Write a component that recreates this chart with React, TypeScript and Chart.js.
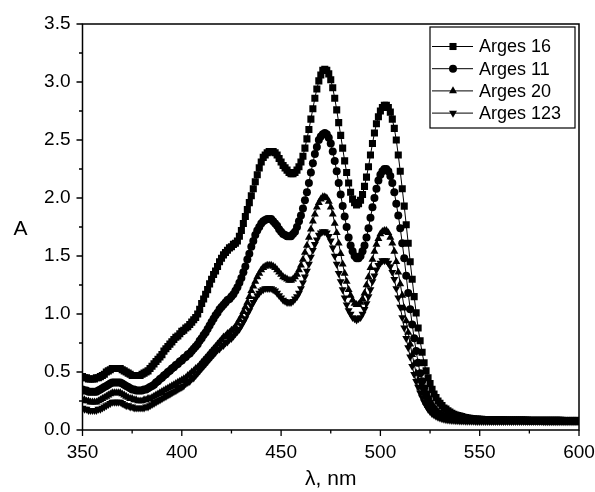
import React, { useEffect, useRef } from 'react';
import { Chart, registerables } from 'chart.js';

Chart.register(...registerables);

// wavelength sampling: 350 .. 600 nm, 1 nm step
const WL_START = 350;
const WL_STEP = 1;

const X_MAJOR = [350, 400, 450, 500, 550, 600];
const X_MINOR = [375, 425, 475, 525, 575];
const Y_MAJOR = [0, 0.5, 1.0, 1.5, 2.0, 2.5, 3.0, 3.5];
const Y_MINOR = [0.25, 0.75, 1.25, 1.75, 2.25, 2.75, 3.25];

const SERIES_NAMES = ['Arges 16', 'Arges 11', 'Arges 20', 'Arges 123'];

const arges16 = [
  0.46, 0.45, 0.45, 0.44, 0.44, 0.44, 0.44, 0.45, 0.45, 0.46,
  0.47, 0.48, 0.50, 0.51, 0.52, 0.53, 0.53, 0.53, 0.53, 0.53,
  0.52, 0.51, 0.50, 0.49, 0.48, 0.47, 0.47, 0.47, 0.47, 0.47,
  0.48, 0.49, 0.50, 0.51, 0.53, 0.55, 0.57, 0.59, 0.61, 0.63,
  0.65, 0.68, 0.70, 0.72, 0.74, 0.76, 0.78, 0.80, 0.81, 0.83,
  0.85, 0.86, 0.88, 0.89, 0.91, 0.93, 0.95, 0.97, 1.00, 1.04,
  1.09, 1.13, 1.17, 1.21, 1.26, 1.30, 1.34, 1.37, 1.41, 1.45,
  1.48, 1.51, 1.53, 1.55, 1.57, 1.58, 1.60, 1.61, 1.63, 1.67,
  1.72, 1.78, 1.84, 1.90, 1.96, 2.02, 2.08, 2.14, 2.20, 2.26,
  2.31, 2.35, 2.37, 2.39, 2.40, 2.40, 2.40, 2.39, 2.37, 2.34,
  2.31, 2.28, 2.26, 2.24, 2.22, 2.21, 2.21, 2.22, 2.24, 2.27,
  2.31, 2.36, 2.43, 2.51, 2.59, 2.68, 2.77, 2.86, 2.94, 3.01,
  3.06, 3.10, 3.11, 3.10, 3.07, 3.02, 2.95, 2.86, 2.76, 2.65,
  2.54, 2.43, 2.32, 2.22, 2.13, 2.05, 1.99, 1.96, 1.94, 1.95,
  1.98, 2.03, 2.10, 2.18, 2.27, 2.37, 2.47, 2.56, 2.64, 2.70,
  2.75, 2.78, 2.80, 2.80, 2.78, 2.74, 2.68, 2.60, 2.50, 2.37,
  2.23, 2.08, 1.93, 1.77, 1.61, 1.45, 1.30, 1.15, 1.01, 0.88,
  0.77, 0.67, 0.58, 0.51, 0.45, 0.40, 0.35, 0.31, 0.28, 0.25,
  0.23, 0.21, 0.19, 0.18, 0.165, 0.155, 0.145, 0.135, 0.13, 0.125,
  0.12, 0.115, 0.11, 0.107, 0.104, 0.101, 0.099, 0.097, 0.095, 0.094,
  0.093, 0.092, 0.091, 0.090, 0.090, 0.089, 0.089, 0.088, 0.088, 0.088,
  0.087, 0.087, 0.087, 0.086, 0.086, 0.086, 0.086, 0.086, 0.085, 0.085,
  0.085, 0.085, 0.085, 0.085, 0.085, 0.084, 0.084, 0.084, 0.084, 0.084,
  0.084, 0.084, 0.084, 0.083, 0.083, 0.083, 0.083, 0.083, 0.083, 0.083,
  0.083, 0.083, 0.082, 0.082, 0.082, 0.082, 0.082, 0.082, 0.082, 0.082,
  0.082,
];

const arges11 = [
  0.35, 0.34, 0.34, 0.33, 0.33, 0.33, 0.33, 0.33, 0.34, 0.35,
  0.36, 0.37, 0.38, 0.39, 0.40, 0.41, 0.41, 0.41, 0.41, 0.41,
  0.40, 0.39, 0.38, 0.37, 0.36, 0.35, 0.35, 0.34, 0.34, 0.34,
  0.34, 0.35, 0.35, 0.36, 0.37, 0.38, 0.39, 0.41, 0.42, 0.44,
  0.45, 0.47, 0.48, 0.50, 0.51, 0.53, 0.54, 0.56, 0.57, 0.59,
  0.60, 0.62, 0.63, 0.65, 0.66, 0.68, 0.70, 0.72, 0.74, 0.77,
  0.79, 0.82, 0.84, 0.87, 0.90, 0.93, 0.96, 0.99, 1.01, 1.04,
  1.06, 1.08, 1.10, 1.12, 1.13, 1.15, 1.17, 1.20, 1.23, 1.27,
  1.31, 1.36, 1.41, 1.47, 1.52, 1.58, 1.63, 1.68, 1.72, 1.75,
  1.78, 1.80, 1.81, 1.82, 1.82, 1.82, 1.80, 1.78, 1.76, 1.73,
  1.71, 1.69, 1.68, 1.67, 1.67, 1.67, 1.69, 1.71, 1.75, 1.80,
  1.85, 1.91, 1.98, 2.05, 2.13, 2.22, 2.30, 2.38, 2.44, 2.50,
  2.53, 2.55, 2.56, 2.55, 2.52, 2.47, 2.40, 2.32, 2.23, 2.13,
  2.03, 1.93, 1.84, 1.75, 1.66, 1.59, 1.54, 1.50, 1.48, 1.48,
  1.50, 1.54, 1.59, 1.66, 1.74, 1.83, 1.92, 2.00, 2.08, 2.15,
  2.20, 2.23, 2.25, 2.25, 2.23, 2.19, 2.13, 2.05, 1.95, 1.85,
  1.74, 1.61, 1.48, 1.33, 1.18, 1.04, 0.91, 0.79, 0.68, 0.58,
  0.49, 0.42, 0.36, 0.31, 0.27, 0.23, 0.20, 0.18, 0.16, 0.145,
  0.135, 0.125, 0.118, 0.112, 0.107, 0.103, 0.100, 0.097, 0.095, 0.093,
  0.091, 0.090, 0.089, 0.088, 0.087, 0.086, 0.086, 0.085, 0.085, 0.084,
  0.084, 0.084, 0.083, 0.083, 0.083, 0.082, 0.082, 0.082, 0.082, 0.082,
  0.081, 0.081, 0.081, 0.081, 0.081, 0.081, 0.081, 0.081, 0.081, 0.081,
  0.081, 0.081, 0.081, 0.080, 0.080, 0.080, 0.080, 0.080, 0.080, 0.080,
  0.080, 0.080, 0.080, 0.080, 0.080, 0.080, 0.080, 0.080, 0.080, 0.080,
  0.079, 0.079, 0.079, 0.079, 0.079, 0.079, 0.079, 0.079, 0.079, 0.079,
  0.079,
];

const arges20 = [
  0.26, 0.26, 0.25, 0.25, 0.24, 0.24, 0.24, 0.24, 0.25, 0.26,
  0.27, 0.28, 0.29, 0.30, 0.31, 0.32, 0.32, 0.32, 0.32, 0.32,
  0.31, 0.30, 0.29, 0.28, 0.27, 0.27, 0.26, 0.26, 0.25, 0.25,
  0.25, 0.26, 0.26, 0.27, 0.27, 0.28, 0.29, 0.30, 0.31, 0.32,
  0.33, 0.34, 0.35, 0.36, 0.37, 0.38, 0.39, 0.40, 0.41, 0.42,
  0.43, 0.44, 0.45, 0.47, 0.48, 0.50, 0.51, 0.53, 0.54, 0.56,
  0.58, 0.60, 0.62, 0.64, 0.66, 0.68, 0.70, 0.72, 0.74, 0.76,
  0.78, 0.80, 0.81, 0.83, 0.84, 0.86, 0.87, 0.89, 0.92, 0.95,
  0.98, 1.02, 1.06, 1.10, 1.15, 1.20, 1.24, 1.28, 1.32, 1.35,
  1.38, 1.40, 1.41, 1.42, 1.42, 1.42, 1.41, 1.40, 1.38, 1.36,
  1.34, 1.32, 1.31, 1.30, 1.29, 1.29, 1.30, 1.32, 1.34, 1.38,
  1.42, 1.47, 1.53, 1.59, 1.66, 1.73, 1.80, 1.86, 1.92, 1.96,
  1.99, 2.01, 2.01, 2.00, 1.97, 1.92, 1.86, 1.78, 1.70, 1.61,
  1.52, 1.43, 1.35, 1.28, 1.21, 1.16, 1.12, 1.09, 1.08, 1.08,
  1.10, 1.13, 1.18, 1.25, 1.32, 1.40, 1.47, 1.54, 1.60, 1.65,
  1.69, 1.71, 1.72, 1.72, 1.70, 1.66, 1.61, 1.54, 1.45, 1.36,
  1.26, 1.16, 1.05, 0.94, 0.84, 0.74, 0.65, 0.57, 0.49, 0.43,
  0.37, 0.32, 0.28, 0.24, 0.21, 0.185, 0.165, 0.15, 0.135, 0.125,
  0.115, 0.108, 0.102, 0.098, 0.094, 0.091, 0.089, 0.087, 0.085, 0.084,
  0.083, 0.082, 0.081, 0.081, 0.080, 0.080, 0.079, 0.079, 0.079, 0.078,
  0.078, 0.078, 0.078, 0.078, 0.078, 0.078, 0.078, 0.078, 0.078, 0.078,
  0.078, 0.078, 0.078, 0.077, 0.077, 0.077, 0.077, 0.077, 0.077, 0.077,
  0.077, 0.077, 0.077, 0.077, 0.077, 0.077, 0.077, 0.077, 0.077, 0.077,
  0.077, 0.077, 0.076, 0.076, 0.076, 0.076, 0.076, 0.076, 0.076, 0.076,
  0.076, 0.076, 0.076, 0.076, 0.076, 0.076, 0.076, 0.076, 0.076, 0.076,
  0.076,
];

const arges123 = [
  0.19, 0.18, 0.18, 0.17, 0.17, 0.17, 0.17, 0.17, 0.18, 0.18,
  0.19, 0.20, 0.21, 0.22, 0.23, 0.24, 0.24, 0.24, 0.24, 0.24,
  0.23, 0.22, 0.21, 0.21, 0.20, 0.20, 0.19, 0.19, 0.19, 0.19,
  0.19, 0.19, 0.20, 0.20, 0.21, 0.22, 0.23, 0.24, 0.25, 0.26,
  0.27, 0.28, 0.29, 0.30, 0.31, 0.32, 0.33, 0.34, 0.35, 0.36,
  0.37, 0.38, 0.40, 0.41, 0.42, 0.44, 0.45, 0.47, 0.49, 0.51,
  0.53, 0.55, 0.57, 0.59, 0.61, 0.63, 0.65, 0.67, 0.69, 0.70,
  0.72, 0.73, 0.75, 0.76, 0.78, 0.79, 0.81, 0.83, 0.85, 0.87,
  0.90, 0.93, 0.96, 1.00, 1.03, 1.07, 1.10, 1.13, 1.16, 1.18,
  1.20, 1.21, 1.22, 1.22, 1.22, 1.22, 1.21, 1.20, 1.18, 1.16,
  1.14, 1.12, 1.11, 1.10, 1.10, 1.10, 1.11, 1.13, 1.15, 1.18,
  1.22, 1.27, 1.32, 1.37, 1.43, 1.49, 1.55, 1.60, 1.64, 1.68,
  1.70, 1.71, 1.71, 1.70, 1.67, 1.63, 1.57, 1.50, 1.43, 1.35,
  1.28, 1.21, 1.14, 1.08, 1.03, 1.00, 0.97, 0.96, 0.95, 0.96,
  0.97, 1.00, 1.04, 1.09, 1.15, 1.21, 1.28, 1.33, 1.38, 1.42,
  1.44, 1.46, 1.46, 1.46, 1.44, 1.41, 1.36, 1.30, 1.22, 1.14,
  1.06, 0.97, 0.88, 0.79, 0.71, 0.63, 0.55, 0.48, 0.42, 0.37,
  0.32, 0.28, 0.24, 0.21, 0.18, 0.16, 0.14, 0.13, 0.12, 0.11,
  0.104, 0.098, 0.094, 0.090, 0.087, 0.085, 0.083, 0.082, 0.081, 0.080,
  0.079, 0.078, 0.078, 0.077, 0.077, 0.076, 0.076, 0.076, 0.075, 0.075,
  0.075, 0.075, 0.075, 0.075, 0.075, 0.075, 0.075, 0.075, 0.075, 0.075,
  0.075, 0.075, 0.074, 0.074, 0.074, 0.074, 0.074, 0.074, 0.074, 0.074,
  0.074, 0.074, 0.074, 0.074, 0.074, 0.074, 0.074, 0.074, 0.074, 0.074,
  0.074, 0.074, 0.073, 0.073, 0.073, 0.073, 0.073, 0.073, 0.073, 0.073,
  0.073, 0.073, 0.073, 0.073, 0.073, 0.073, 0.073, 0.073, 0.073, 0.073,
  0.073,
];

const SERIES_VALUES = [arges16, arges11, arges20, arges123];
const SERIES_MARKERS: { style: string; radius: number; rotation: number }[] = [
  { style: 'rect', radius: 5, rotation: 0 },
  { style: 'circle', radius: 4, rotation: 0 },
  { style: 'triangle', radius: 4.6, rotation: 0 },
  { style: 'triangle', radius: 4.6, rotation: 180 },
];

const FONT = '"Liberation Sans", Arial, sans-serif';

function toPoints(vals: number[]) {
  return vals.map((y, i) => ({ x: WL_START + i * WL_STEP, y }));
}

function drawMarker(ctx: CanvasRenderingContext2D, style: string, x: number, y: number, r: number, rotation: number) {
  ctx.beginPath();
  if (style === 'rect') {
    const s = Math.SQRT1_2 * r;
    ctx.rect(x - s, y - s, 2 * s, 2 * s);
  } else if (style === 'circle') {
    ctx.arc(x, y, r, 0, Math.PI * 2);
  } else {
    let rad = (rotation * Math.PI) / 180;
    ctx.moveTo(x + Math.sin(rad) * r, y - Math.cos(rad) * r);
    rad += (2 * Math.PI) / 3;
    ctx.lineTo(x + Math.sin(rad) * r, y - Math.cos(rad) * r);
    rad += (2 * Math.PI) / 3;
    ctx.lineTo(x + Math.sin(rad) * r, y - Math.cos(rad) * r);
    ctx.closePath();
  }
  ctx.fill();
}

const decorPlugin = {
  id: 'decor',
  afterDraw(chart: any) {
    const { ctx, chartArea: a, scales } = chart;
    const xs = scales.x;
    const ys = scales.y;
    ctx.save();
    ctx.strokeStyle = '#000';
    ctx.fillStyle = '#000';
    // frame
    ctx.lineWidth = 1.5;
    ctx.strokeRect(a.left, a.top, a.right - a.left, a.bottom - a.top);
    // ticks
    ctx.lineWidth = 1.3;
    ctx.beginPath();
    X_MAJOR.forEach((v) => {
      const p = xs.getPixelForValue(v);
      ctx.moveTo(p, a.bottom);
      ctx.lineTo(p, a.bottom + 6);
    });
    X_MINOR.forEach((v) => {
      const p = xs.getPixelForValue(v);
      ctx.moveTo(p, a.bottom);
      ctx.lineTo(p, a.bottom + 3.5);
    });
    Y_MAJOR.forEach((v) => {
      const p = ys.getPixelForValue(v);
      ctx.moveTo(a.left, p);
      ctx.lineTo(a.left - 6, p);
    });
    Y_MINOR.forEach((v) => {
      const p = ys.getPixelForValue(v);
      ctx.moveTo(a.left, p);
      ctx.lineTo(a.left - 3.5, p);
    });
    ctx.stroke();

    // axis titles
    ctx.font = `21px ${FONT}`;
    ctx.textAlign = 'center';
    ctx.textBaseline = 'middle';
    ctx.fillText('A', 20.5, (a.top + a.bottom) / 2 + 2);
    ctx.fillText('\u03bb, nm', (a.left + a.right) / 2, 479);

    // legend
    const bx = 430, by = 27, bw = 145, bh = 101;
    ctx.lineWidth = 1.2;
    ctx.fillStyle = '#fff';
    ctx.fillRect(bx, by, bw, bh);
    ctx.strokeRect(bx, by, bw, bh);
    ctx.fillStyle = '#000';
    ctx.font = `18px ${FONT}`;
    ctx.textAlign = 'left';
    SERIES_NAMES.forEach((name, i) => {
      const y = by + 19.5 + i * 22.2;
      ctx.lineWidth = 1;
      ctx.beginPath();
      ctx.moveTo(bx + 2, y);
      ctx.lineTo(bx + 43, y);
      ctx.stroke();
      const m = SERIES_MARKERS[i];
      drawMarker(ctx, m.style, bx + 23, y, m.radius, m.rotation);
      ctx.fillText(name, bx + 49, y + 1);
    });
    ctx.restore();
  },
};

export default function App() {
  const ref = useRef<HTMLCanvasElement>(null);
  useEffect(() => {
    document.body.style.margin = '0';
    Chart.defaults.font.family = FONT;
    const chart = new Chart(ref.current as HTMLCanvasElement, {
      type: 'line',
      data: {
        datasets: SERIES_NAMES.map((name, i) => ({
          label: name,
          data: toPoints(SERIES_VALUES[i]),
          borderColor: '#000',
          borderWidth: 1,
          backgroundColor: '#000',
          pointStyle: SERIES_MARKERS[i].style as any,
          pointRadius: SERIES_MARKERS[i].radius,
          pointRotation: SERIES_MARKERS[i].rotation,
          pointBorderWidth: 0,
          pointBackgroundColor: '#000',
          pointBorderColor: '#000',
          tension: 0,
        })),
      },
      options: {
        responsive: false,
        animation: false,
        events: [],
        layout: { padding: { left: 0, top: 24, right: 16, bottom: 0 } },
        plugins: { legend: { display: false }, tooltip: { enabled: false } },
        scales: {
          x: {
            type: 'linear',
            min: 350,
            max: 600,
            afterFit: (s: any) => {
              s.height = 62;
              s.paddingLeft = 0;
              s.paddingRight = 0;
            },
            afterBuildTicks: (s: any) => {
              s.ticks = X_MAJOR.map((v) => ({ value: v }));
            },
            ticks: {
              color: '#000',
              font: { size: 19, family: FONT },
              padding: 11,
              maxRotation: 0,
              callback: (v: any) => String(v),
            },
            grid: { display: false, drawTicks: false },
            border: { display: false },
          },
          y: {
            type: 'linear',
            min: 0,
            max: 3.5,
            afterFit: (s: any) => {
              s.width = 82.5;
              s.paddingTop = 0;
              s.paddingBottom = 0;
            },
            afterBuildTicks: (s: any) => {
              s.ticks = Y_MAJOR.map((v) => ({ value: v }));
            },
            ticks: {
              color: '#000',
              font: { size: 19, family: FONT },
              padding: 12,
              callback: (v: any) => Number(v).toFixed(1),
            },
            grid: { display: false, drawTicks: false },
            border: { display: false },
          },
        },
      },
      plugins: [decorPlugin],
    });
    return () => chart.destroy();
  }, []);
  return (
    <div style={{ position: 'absolute', left: 0, top: 0, width: 595, height: 492, background: '#fff' }}>
      <canvas ref={ref} width={595} height={492} style={{ display: 'block', width: 595, height: 492 }} />
    </div>
  );
}
